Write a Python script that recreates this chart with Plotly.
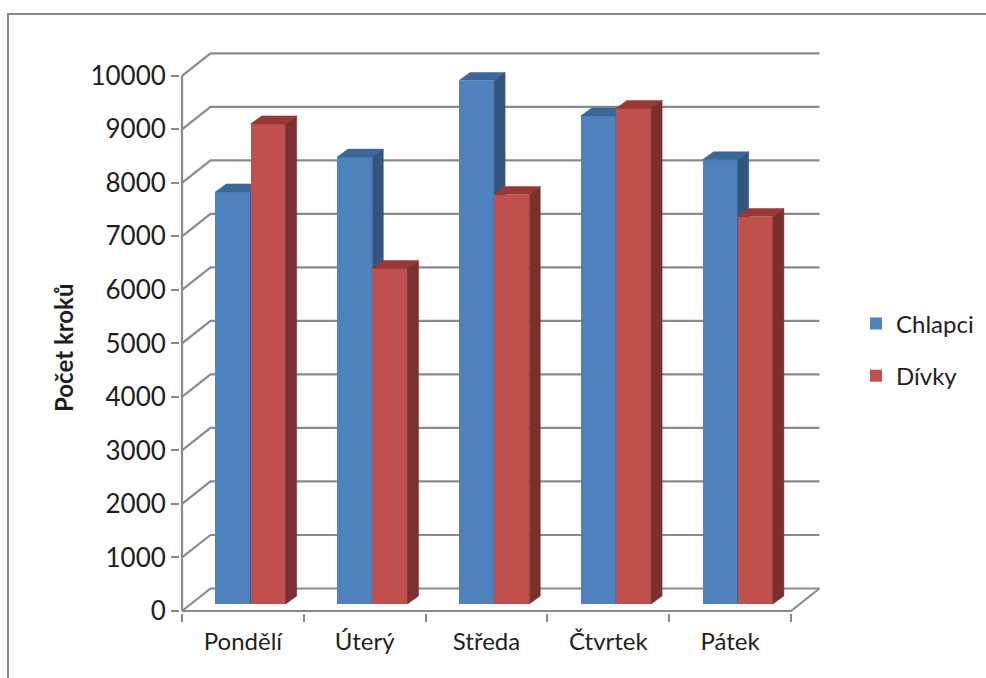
import plotly.graph_objects as go

# ---- data -------------------------------------------------------------
days = ["Pondělí", "Úterý", "Středa", "Čtvrtek", "Pátek"]
chlapci = [7700, 8350, 9780, 9120, 8300]
divky = [8970, 6270, 7650, 9260, 7240]
y_ticks = [0, 1000, 2000, 3000, 4000, 5000, 6000, 7000, 8000, 9000, 10000]

# ---- page geometry (pixels) -----------------------------------------
W, H = 986, 678
PLOT_L, PLOT_R, PLOT_T, PLOT_B = 180, 824, 49, 613
ORIGIN_X, ORIGIN_Y = 182, 611          # front-left corner of the floor
PX_PER_CAT = 121.8                     # one category slot
PX_PER_UNIT = 53.52 / 1000             # one step (1000) on the value axis

# oblique "3D" offsets, in pixels
WALL_DX, WALL_DY = 28.5, 22.5          # depth of the floor / back wall
FACE_DX, FACE_DY = 7.6, 7.0            # front face of the bars
BAR_DX, BAR_DY = 11.0, 8.0             # depth of a bar
BAR_PX = 35.2                          # width of one bar

def ux(px):
    return px / PX_PER_CAT

def uy(px):
    return px / PX_PER_UNIT

def paper_x(px):
    return (px - PLOT_L) / (PLOT_R - PLOT_L)

def paper_y(py):
    return (PLOT_B - py) / (PLOT_B - PLOT_T)

x_range = [ux(PLOT_L - ORIGIN_X), ux(PLOT_R - ORIGIN_X)]
y_range = [uy(ORIGIN_Y - PLOT_B), uy(ORIGIN_Y - PLOT_T)]

GRID = "#8a8a8a"
FONT = "Lato"
TEXT = "#1e1e1e"

fig = go.Figure()

# ---- walls: left wall diagonals + back wall gridlines ------------------
n = len(days)
gx, gy = [], []
for v in y_ticks:
    gx += [0, ux(WALL_DX), n + ux(WALL_DX), None]
    gy += [v, v + uy(WALL_DY), v + uy(WALL_DY), None]
fig.add_trace(go.Scatter(x=gx, y=gy, mode="lines", line=dict(color=GRID, width=2.2),
                         hoverinfo="skip", showlegend=False))

# front axes + right floor edge
ax_x = [0, 0, None, 0, n, n + ux(WALL_DX)]
ax_y = [y_ticks[-1], 0, None, 0, 0, uy(WALL_DY)]
fig.add_trace(go.Scatter(x=ax_x, y=ax_y, mode="lines", line=dict(color=GRID, width=2.2),
                         hoverinfo="skip", showlegend=False))

# ---- bars -------------------------------------------------------------
series = [
    ("Chlapci", chlapci, "#4F81BD", "#3C6796", "#33547E", -1, "y2"),
    ("Dívky", divky, "#C0504D", "#963936", "#7A302E", 0, "y3"),
]
bw = ux(BAR_PX)
base = uy(FACE_DY)
for name, vals, c_front, c_top, c_side, k, yax in series:
    centers = [i + 0.5 + ux(FACE_DX) for i in range(n)]
    fig.add_trace(go.Bar(
        x=centers, y=vals, base=base, width=bw, offset=k * bw,
        marker=dict(color=c_front, line=dict(width=0)),
        name=name, legendgroup=name, yaxis=yax, hoverinfo="skip",
    ))
    tx, ty, sx, sy = [], [], [], []
    for c, v in zip(centers, vals):
        x0 = c + k * bw
        x1 = x0 + bw
        top = base + v
        ddx, ddy = ux(BAR_DX), uy(BAR_DY)
        tx += [x0, x1, x1 + ddx, x0 + ddx, x0, None]
        ty += [top, top, top + ddy, top + ddy, top, None]
        sx += [x1, x1, x1 + ddx, x1 + ddx, x1, None]
        sy += [base, top, top + ddy, base + ddy, base, None]
    fig.add_trace(go.Scatter(x=tx, y=ty, mode="lines", fill="toself", fillcolor=c_top,
                             line=dict(color=c_top, width=0.5), yaxis=yax,
                             hoverinfo="skip", showlegend=False))
    fig.add_trace(go.Scatter(x=sx, y=sy, mode="lines", fill="toself", fillcolor=c_side,
                             line=dict(color=c_side, width=0.5), yaxis=yax,
                             hoverinfo="skip", showlegend=False))

# ---- layout -----------------------------------------------------------
hidden_y = dict(range=y_range, overlaying="y", visible=False, fixedrange=True)
fig.update_layout(
    width=W, height=H,
    margin=dict(l=PLOT_L, r=W - PLOT_R, t=PLOT_T, b=H - PLOT_B, autoexpand=False),
    paper_bgcolor="white", plot_bgcolor="white",
    font=dict(family=FONT, size=24, color=TEXT),
    showlegend=True,
    legend=dict(x=paper_x(856), y=paper_y(350), xanchor="left", yanchor="middle",
                font=dict(family=FONT, size=24, color=TEXT), tracegroupgap=18,
                bgcolor="rgba(0,0,0,0)", traceorder="grouped"),
    xaxis=dict(range=x_range, showgrid=False, zeroline=False, showline=False,
               tickvals=[i + 0.5 for i in range(n)], ticktext=days, ticks="",
               ticklabelstandoff=12,
               minor=dict(tickvals=list(range(n + 1)), ticks="outside", ticklen=8,
                          tickwidth=2, tickcolor=GRID, showgrid=False),
               tickfont=dict(family=FONT, size=24, color=TEXT), fixedrange=True),
    yaxis=dict(range=y_range, showgrid=False, zeroline=False, showline=False,
               tickvals=y_ticks, ticktext=[str(v) for v in y_ticks],
               ticks="outside", ticklen=8, tickwidth=2, tickcolor=GRID,
               tickfont=dict(family=FONT, size=26, color=TEXT), fixedrange=True),
    yaxis2=hidden_y,
    yaxis3=hidden_y,
    bargap=0,
    shapes=[dict(type="rect", xref="paper", yref="paper",
                 x0=paper_x(8), x1=paper_x(W + 20), y0=paper_y(H + 20), y1=paper_y(14),
                 line=dict(color="#878787", width=2), fillcolor="rgba(0,0,0,0)",
                 layer="below")],
    annotations=[dict(text="Počet kroků", xref="paper", yref="paper",
                      x=paper_x(63), y=paper_y(348), textangle=-90, showarrow=False,
                      font=dict(family=FONT, size=24, color=TEXT, weight="bold"),
                      xanchor="center", yanchor="middle")],
)

fig.write_html("out.html")
